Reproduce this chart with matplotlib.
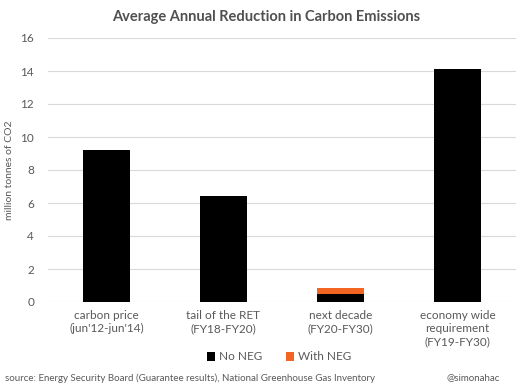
import matplotlib
matplotlib.use("Agg")
import matplotlib.pyplot as plt
import numpy as np

categories = ["carbon price\n(jun'12-jun'14)", "tail of the RET\n(FY18-FY20)",
              "next decade\n(FY20-FY30)", "economy wide\nrequirement\n(FY19-FY30)"]
no_neg = [9.2, 6.4, 0.5, 14.1]
with_neg = [0.0, 0.0, 0.35, 0.0]
yticks = [0, 2, 4, 6, 8, 10, 12, 14, 16]

plt.rcParams['font.family'] = ['Lato', 'DejaVu Sans']
txt = '#595959'

fig = plt.figure(figsize=(5.32, 3.91), dpi=100)
ax = fig.add_axes([48/532, 1-302/391, 468/532, 264/391])
x = np.arange(len(categories))
ax.bar(x, no_neg, width=0.4, color='black', label='No NEG', zorder=3)
ax.bar(x, with_neg, width=0.4, bottom=no_neg, color='#f26522', label='With NEG', zorder=3)
ax.set_xlim(-0.5, 3.5)
ax.set_ylim(0, 16)
ax.set_yticks(yticks)
ax.set_yticklabels([str(t) for t in yticks], fontsize=8.5, color=txt)
ax.set_xticks(x)
ax.set_xticklabels(categories, fontsize=8.5, color=txt, linespacing=1.2)
ax.tick_params(length=0, pad=10)
ax.tick_params(axis='x', pad=6)
ax.grid(axis='y', color='#d9d9d9', linewidth=0.8, zorder=0)
for s in ax.spines.values():
    s.set_visible(False)
ax.set_ylabel('million tonnes of CO2', fontsize=7.5, color=txt, labelpad=4)
ax.yaxis.set_label_coords(-0.072, 0.5)

fig.text(0.5, 1-17/391, 'Average Annual Reduction in Carbon Emissions', ha='center', va='center',
         fontsize=10.5, fontweight='bold', color='#505050')
leg = fig.legend(loc='center', bbox_to_anchor=(279/532, 1-357/391), ncol=2, frameon=False,
                 fontsize=8.5, handlelength=0.7, handleheight=0.7, handletextpad=0.3, columnspacing=2.0)
for t in leg.get_texts():
    t.set_color(txt)
fig.text(5/532, 1-378/391, 'source: Energy Security Board (Guarantee results), National Greenhouse Gas Inventory',
         ha='left', va='center', fontsize=7, color=txt)
fig.text(500/532, 1-378/391, '@simonahac', ha='right', va='center', fontsize=7, color=txt)

fig.savefig('out.png', dpi=100)
